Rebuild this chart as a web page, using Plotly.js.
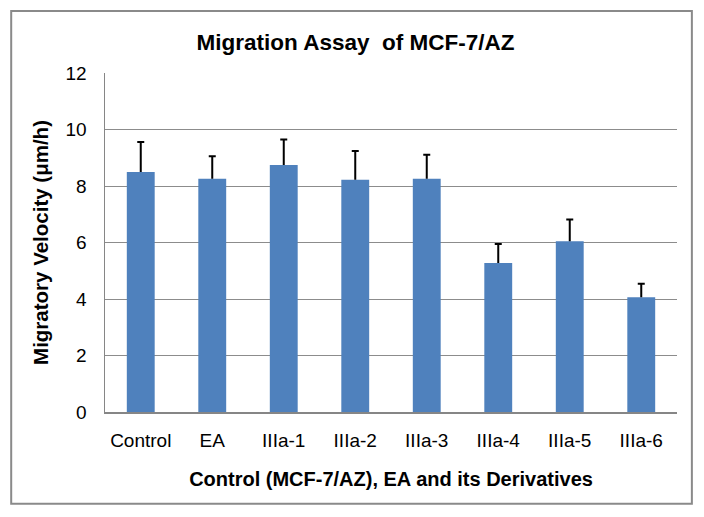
<!DOCTYPE html>
<html>
<head>
<meta charset="utf-8">
<script src="https://cdn.plot.ly/plotly-3.0.1.min.js"></script>
<style>html,body{margin:0;padding:0;background:#fff;}#chart{width:704px;height:517px;}</style>
</head>
<body>
<div id="chart"></div>
<script>
var categories = ["Control", "EA", "IIIa-1", "IIIa-2", "IIIa-3", "IIIa-4", "IIIa-5", "IIIa-6"];
var velocity = [8.50, 8.26, 8.74, 8.22, 8.26, 5.27, 6.04, 4.06];
var errorPlus = [1.06, 0.79, 0.91, 1.02, 0.85, 0.68, 0.77, 0.48];
var yTicks = [0, 2, 4, 6, 8, 10, 12];

var trace = {
  type: "bar",
  x: categories,
  y: velocity,
  marker: {color: "#4F81BD"},
  error_y: {type: "data", symmetric: false, array: errorPlus, arrayminus: errorPlus.map(function(){return 0;}), color: "#000", thickness: 2, width: 3.5}
};

var F = "Liberation Sans, Arial, sans-serif";
var layout = {
  width: 704, height: 517,
  margin: {l: 105, r: 27, t: 73, b: 105},
  paper_bgcolor: "#fff", plot_bgcolor: "#fff",
  font: {family: F, color: "#000"},
  title: {text: "<b>Migration Assay  of MCF-7/AZ</b>", font: {size: 22.5, family: F}, x: 0.505, xanchor: "center", y: 0.918, yanchor: "middle"},
  bargap: 0.61,
  showlegend: false,
  xaxis: {
    showline: true, linecolor: "#868686", linewidth: 1.5,
    ticks: "", tickfont: {size: 19, family: F},
    ticklabelstandoff: 11,
    title: {text: "<b>Control (MCF-7/AZ), EA and its Derivatives</b>", font: {size: 20, family: F}, standoff: 21}
  },
  yaxis: {
    range: [0, 12], tickvals: yTicks, ticktext: yTicks.map(String),
    showline: true, linecolor: "#868686", linewidth: 1.5,
    showgrid: true, gridcolor: "#8c8c8c", gridwidth: 1,
    zeroline: false, ticks: "",
    tickfont: {size: 19, family: F},
    ticklabelstandoff: 13,
    title: {text: "<b>Migratory Velocity (μm/h)</b>", font: {size: 20.5, family: F}, standoff: 11}
  },
  shapes: [{
    type: "rect", xref: "paper", yref: "paper",
    x0: -0.164, x1: 1.026, y0: -0.271, y1: 1.183,
    line: {color: "#8a8a8a", width: 2}, fillcolor: "rgba(0,0,0,0)", layer: "below"
  }]
};

Plotly.newPlot("chart", [trace], layout, {displayModeBar: false, staticPlot: true}).then(function(gd){
  // Remove the lower cap ("shoe") so only the upper error bar shows, as in the reference
  gd.querySelectorAll(".errorbar path").forEach(function(p){
    var d = p.getAttribute("d");
    if (d) p.setAttribute("d", d.replace(/m-[\d.]+,0h[\d.]+\s*$/, ""));
  });
});
</script>
</body>
</html>
